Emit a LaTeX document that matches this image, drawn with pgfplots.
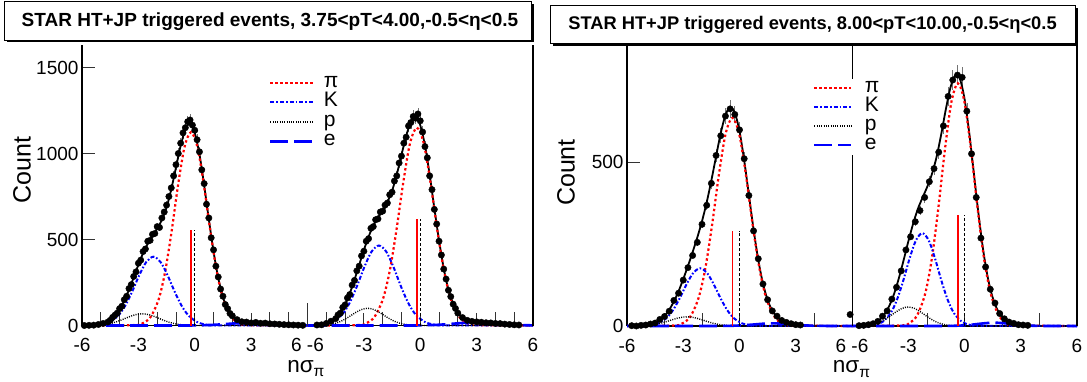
\documentclass[border=0pt]{standalone}
\usepackage{fontspec}
\setmainfont{Liberation Sans}
\usepackage{pgfplots}
\pgfplotsset{compat=1.18}
\pgfplotsset{
  rootaxis/.style={
    scale only axis, clip=false,
    axis x line*=bottom, axis y line*=left,
    axis line style={-, line width=1.1pt, black},
    tick align=inside,
    xmin=-6, xmax=18, ymin=0,
    major tick length=13pt, minor tick length=14pt,
    tick style={black!80, line width=0.9pt},
    ticklabel style={font=\fontsize{19}{19}\selectfont, text=black},
    xticklabel style={inner sep=0pt, yshift=-12.6pt},
    label style={font=\fontsize{25}{25}\selectfont},
    legend cell align=left,
  },
  datast/.style={only marks, mark=*, mark size=3.2pt, black, forget plot,
    error bars/y dir=both, error bars/y fixed relative=0.03, error bars/error mark=none,
    error bars/error bar style={black!55, line width=0.7pt}},
  totst/.style={black, line width=1.8pt, smooth, forget plot},
  pist/.style={red, line width=2.2pt, dash pattern=on 2.4pt off 2.6pt, smooth},
  kst/.style={blue, line width=2pt, dash pattern=on 4pt off 2pt on 1.6pt off 2pt, smooth},
  pst/.style={black, line width=1.4pt, dash pattern=on 1pt off 1.3pt, smooth},
  est/.style={blue, line width=2.6pt, dash pattern=on 18pt off 6pt, smooth},
  redv/.style={red, line width=1.3pt, forget plot},
  blkv/.style={black, line width=1.3pt, dash pattern=on 3pt off 2pt, forget plot},
}
\newcommand{\nsigpi}{nσ\raisebox{-4.5pt}{\fontsize{15.5}{15.5}\selectfont π}}
\begin{document}
\begin{tikzpicture}
\path[use as bounding box] (0pt,0pt) rectangle (1087pt,381pt);
% ---------------- Panel 1 ----------------
\begin{axis}[rootaxis, at={(82pt,55.5pt)}, anchor=south west,
  width=451pt, height=281pt, ymax=1633.7,
  ytick={0,500,1000,1500}, yticklabels={0,500,1000,1500},
  xtick={-6,-3,0,3,6,9,12,15,18},
  xticklabels={-6,-3,0,3,6 -6,-3,0,3,6},
  minor xtick={-5,-4,-2,-1,1,2,4,5,7,8,10,11,13,14,16,17},
  xlabel={\nsigpi},
  ylabel={Count},
  xlabel style={at={(axis description cs:0.4963,-0.1655)}, anchor=base, inner sep=0pt, font=\fontsize{22.5}{22.5}\selectfont},
  ylabel style={at={(axis description cs:-0.133,0.552)}, anchor=center},
  legend style={at={(axis description cs:0.4146,0.899)}, anchor=north west,
    draw=none, fill=white, inner xsep=0pt, inner ysep=0pt, column sep=9pt,
    row sep=0pt, font=\fontsize{21}{21}\selectfont,
    nodes={inner sep=0pt, text height=14pt, text depth=5.5pt}},
  legend image code/.code={\draw[#1] (0pt,0pt) -- (43pt,0pt);},
]
% data, left half
\addplot[datast] coordinates {
(-5.875,0) (-5.625,1) (-5.375,2) (-5.125,6) (-4.875,12) (-4.625,20) (-4.5,30) (-4.375,47)
(-4.25,60) (-4.125,72) (-4,98) (-3.875,112) (-3.75,150) (-3.625,170) (-3.5,215) (-3.375,238)
(-3.25,285) (-3.125,312) (-3,362) (-2.875,380) (-2.75,430) (-2.625,445) (-2.5,490) (-2.375,495)
(-2.25,530) (-2.125,535) (-2,575) (-1.875,570) (-1.75,625) (-1.625,660) (-1.5,700) (-1.375,750)
(-1.25,800) (-1.125,870) (-1,935) (-0.875,1000) (-0.75,1060) (-0.625,1120) (-0.5,1150) (-0.375,1185)
(-0.25,1195) (-0.125,1165) (0,1135) (0.125,1080) (0.25,1010) (0.375,905) (0.5,825) (0.625,705)
(0.75,625) (0.875,510) (1,440) (1.125,345) (1.25,282) (1.375,212) (1.5,170) (1.625,122)
(1.75,98) (1.875,70) (2,56) (2.25,34) (2.5,22) (2.75,20) (3,15) (3.25,18) (3.5,13) (3.75,14)
(4,10) (4.25,9) (4.5,7) (4.75,5) (5,4) (5.25,3) (5.5,2) (5.75,1)};
% data, right half
\addplot[datast] coordinates {
(6.5,3) (6.75,4) (7,12) (7.25,25) (7.5,40) (7.625,62) (7.75,72) (7.875,105) (8,120) (8.125,160)
(8.25,180) (8.375,235) (8.5,262) (8.625,318) (8.75,345) (8.875,405) (9,432) (9.125,490) (9.25,505)
(9.375,565) (9.5,575) (9.625,615) (9.75,620) (9.875,660) (10,665) (10.125,700) (10.25,712)
(10.375,760) (10.5,775) (10.625,840) (10.75,870) (10.875,945) (11,985) (11.125,1060) (11.25,1095)
(11.375,1160) (11.5,1180) (11.625,1215) (11.75,1205) (11.875,1230) (12,1190) (12.125,1125)
(12.25,1040) (12.375,975) (12.5,870) (12.625,790) (12.75,675) (12.875,590) (13,490) (13.125,410)
(13.25,328) (13.375,270) (13.5,205) (13.625,168) (13.75,124) (13.875,99) (14,72) (14.25,46)
(14.5,30) (14.75,24) (15,21) (15.25,19) (15.5,16) (15.75,15) (16,12) (16.25,11) (16.5,8)
(16.75,6) (17,4) (17.25,3)};
% total fits
\addplot[totst] coordinates {
(-6,0) (-5.5,2) (-5,9) (-4.75,17) (-4.5,33) (-4.25,58) (-4,94) (-3.75,145) (-3.5,208) (-3.25,279)
(-3,353) (-2.75,420) (-2.5,476) (-2.25,521) (-2,563) (-1.75,614) (-1.5,687) (-1.25,792) (-1,918)
(-0.75,1046) (-0.5,1142) (-0.375,1165) (-0.25,1172) (-0.125,1157) (0,1122) (0.25,996) (0.5,816)
(0.75,617) (1,430) (1.25,277) (1.5,166) (1.75,95) (2,54) (2.25,33) (2.5,23) (2.75,19) (3,17)
(3.5,15) (4,11) (4.5,7) (5,4) (5.5,2) (6,1)};
\addplot[totst] coordinates {
(6,0) (6.5,2) (7,11) (7.25,23) (7.5,43) (7.75,76) (8,123) (8.25,187) (8.5,266) (8.75,352) (9,439)
(9.25,516) (9.5,580) (9.75,628) (10,668) (10.25,717) (10.5,783) (10.75,877) (11,991) (11.25,1102)
(11.5,1186) (11.625,1204) (11.75,1212) (11.875,1195) (12,1165) (12.25,1048) (12.5,877) (12.75,682)
(13,494) (13.25,332) (13.5,209) (13.75,126) (14,74) (14.25,45) (14.5,30) (14.75,23) (15,20)
(15.5,16.5) (16,12.7) (16.5,8.2) (17,4.5) (17.5,2.1) (18,0.8)};
% pi
\addplot[pist] coordinates {
(-6,0) (-3.21,2.5) (-2.78,12.5) (-2.35,49.3) (-1.92,152.1) (-1.576,312.5) (-1.232,547.2)
(-0.888,816.1) (-0.544,1037.6) (-0.2,1124) (0.144,1037.6) (0.488,816.1) (0.832,547.2)
(1.176,312.5) (1.52,152.1) (1.95,49.3) (2.38,12.5) (2.81,2.5) (6,0)};
\addlegendentry{π}
% K
\addplot[kst] coordinates {
(-6,0) (-5.525,0.9) (-5.05,4.4) (-4.575,17.6) (-4.1,54.1) (-3.72,111.2) (-3.34,194.7)
(-2.96,290.4) (-2.58,369.2) (-2.2,400) (-1.82,369.2) (-1.44,290.4) (-1.06,194.7) (-0.68,111.2)
(-0.3,54.1) (0.175,17.6) (0.65,4.4) (1.125,0.9) (6,0)};
\addlegendentry{K}
% p
\addplot[pst] coordinates {
(-6,0.1) (-5.5,0.75) (-5.05,3.0) (-4.6,9.2) (-4.24,18.9) (-3.88,33.1) (-3.52,49.4) (-3.16,62.8)
(-2.8,68) (-2.44,62.8) (-2.08,49.4) (-1.72,33.1) (-1.36,18.9) (-1.0,9.2) (-0.55,3.0) (-0.1,0.75)
(0.35,0.15) (6,0)};
\addlegendentry{p}
% e
\addplot[est] coordinates {
(-6,0) (-0.6,0.2) (0,0.7) (0.6,2.2) (1.08,4.5) (1.56,7.8) (2.04,11.6) (2.52,14.8) (3,16)
(3.48,14.8) (3.96,11.6) (4.44,7.8) (4.92,4.5) (5.4,2.2) (6,0.7)};
\addlegendentry{e}
% right-half components
\addplot[pist, forget plot] coordinates {
(6,0) (8.67,2.5) (9.12,12.8) (9.57,50.5) (10.02,155.6) (10.38,319.7) (10.74,559.8) (11.1,835)
(11.46,1061.6) (11.82,1150) (12.18,1061.6) (12.54,835) (12.9,559.8) (13.26,319.7) (13.62,155.6)
(14.07,50.5) (14.52,12.8) (14.97,2.5) (18,0)};
\addplot[kst, forget plot] coordinates {
(6,0) (6.37,1.0) (6.86,5.2) (7.35,20.4) (7.84,62.9) (8.232,129.3) (8.624,226.4) (9.016,337.6)
(9.408,429.2) (9.8,465) (10.192,429.2) (10.584,337.6) (10.976,226.4) (11.368,129.3) (11.76,62.9)
(12.25,20.4) (12.74,5.2) (13.23,1.0) (18,0)};
\addplot[pst, forget plot] coordinates {
(6,0.1) (6.65,1.1) (7.075,4.4) (7.5,13.5) (7.84,27.8) (8.18,48.7) (8.52,72.6) (8.86,92.3) (9.2,100)
(9.54,92.3) (9.88,72.6) (10.22,48.7) (10.56,27.8) (10.9,13.5) (11.325,4.4) (11.75,1.1)
(12.175,0.2) (18,0)};
\addplot[est, forget plot] coordinates {
(6,0) (11.4,0.2) (12,0.8) (12.6,2.4) (13.08,5.0) (13.56,8.8) (14.04,13.1) (14.52,16.6) (15,18)
(15.48,16.6) (15.96,13.1) (16.44,8.8) (16.92,5.0) (17.4,2.4) (18,0.8)};
% mean lines
\addplot[redv] coordinates {(-0.2,0) (-0.2,555)};
\addplot[blkv] coordinates {(0,0) (0,555)};
\addplot[redv] coordinates {(11.82,0) (11.82,620)};
\addplot[blkv] coordinates {(12,0) (12,620)};
\addplot[black!80, line width=0.9pt, forget plot] coordinates {(6,0) (6,128)};
\draw[line width=1.1pt] (rel axis cs:1,0) -- (rel axis cs:1,1);
\end{axis}
% ---------------- Panel 2 ----------------
\begin{axis}[rootaxis, at={(627pt,55pt)}, anchor=south west,
  width=450pt, height=280pt, ymax=853.7,
  ytick={0,500}, yticklabels={0,500},
  xtick={-4,-2,0,2,4,8,10,12,14,16}, xticklabels={},
  extra x ticks={-6,-3,0,3,6,9,12,15,18},
  extra x tick labels={-6,-3,0,3,6 -6,-3,0,3,6},
  extra x tick style={major tick length=0pt},
  xlabel={\nsigpi},
  ylabel={Count},
  xlabel style={at={(axis description cs:0.4989,-0.1661)}, anchor=base, inner sep=0pt, font=\fontsize{22.5}{22.5}\selectfont},
  ylabel style={at={(axis description cs:-0.1356,0.548)}, anchor=center},
  legend style={at={(axis description cs:0.4133,0.884)}, anchor=north west,
    draw=none, fill=white, inner xsep=0pt, inner ysep=0pt, column sep=12pt,
    row sep=0pt, font=\fontsize{21}{21}\selectfont,
    nodes={inner sep=0pt, text height=14pt, text depth=5pt}},
  legend image code/.code={\draw[#1] (0pt,0pt) -- (37pt,0pt);},
]
\addplot[datast, error bars/y fixed relative=0.04] coordinates {
(-5.75,1) (-5.5,0) (-5.25,2) (-5,3) (-4.75,6) (-4.5,9) (-4.25,20) (-4,29) (-3.75,45) (-3.5,78)
(-3.25,100) (-3,140) (-2.75,178) (-2.5,215) (-2.25,255) (-2,310) (-1.75,368) (-1.5,435)
(-1.25,520) (-1,580) (-0.75,640) (-0.5,662) (-0.25,645) (0,598) (0.25,510) (0.5,398) (0.75,290)
(1,205) (1.25,128) (1.5,80) (1.75,46) (2,30) (2.25,17) (2.5,11) (2.75,7) (3,4) (3.25,3) (5.9,35)};
\addplot[datast, error bars/y fixed relative=0.04] coordinates {
(6.375,1) (6.625,2) (6.875,4) (7.125,7) (7.375,14) (7.625,30) (7.875,46) (8.125,82) (8.375,118)
(8.625,168) (8.875,232) (9.125,272) (9.375,318) (9.625,352) (9.875,392) (10.125,440) (10.375,480)
(10.625,530) (10.875,610) (11.125,700) (11.375,750) (11.625,765) (11.875,758) (12.125,655)
(12.375,525) (12.625,392) (12.875,268) (13.125,180) (13.375,112) (13.625,70) (13.875,38)
(14.125,22) (14.375,12) (14.625,8) (14.875,4) (15.125,3) (15.375,2)};
\addplot[totst] coordinates {
(-6,0) (-5.5,0.4) (-5,2.4) (-4.75,5) (-4.5,9.7) (-4.25,17.8) (-4,30.5) (-3.75,49.4) (-3.5,74.8)
(-3.25,106) (-3,143) (-2.75,183) (-2.5,225.5) (-2.25,270) (-2,319.5) (-1.75,377) (-1.5,444)
(-1.25,517) (-1,588) (-0.75,643) (-0.5,667) (-0.25,650) (0,594) (0.25,505) (0.5,400) (0.75,294.5)
(1,202) (1.25,130) (1.5,79) (1.75,46.6) (2,27) (2.25,16) (2.5,10) (2.75,6.6) (3,4.5) (3.5,1.9)
(4,0.7) (5,0) (6,0)};
\addplot[totst] coordinates {
(6,0) (6.5,1) (7,5) (7.25,10.7) (7.5,20.7) (7.75,37.5) (8,63) (8.25,99) (8.5,146) (8.75,200)
(9,257) (9.25,310) (9.5,355) (9.75,390) (10,422.6) (10.25,461) (10.5,513) (10.75,582) (11,659.5)
(11.25,727) (11.5,764) (11.75,754) (12,693) (12.25,590) (12.5,465) (12.75,340) (13,230)
(13.25,145.5) (13.5,87) (13.75,50) (14,27.7) (14.25,16) (14.5,9.4) (14.75,5.7) (15,3.5) (15.5,1.1)
(16,0.3) (17,0) (18,0)};
\addplot[pist] coordinates {
(-6,0) (-3.53,1.4) (-3.08,7.0) (-2.63,27.9) (-2.18,85.9) (-1.82,176.5) (-1.46,309.1) (-1.1,461.1)
(-0.74,586.2) (-0.38,635) (-0.02,586.2) (0.34,461.1) (0.7,309.1) (1.06,176.5) (1.42,85.9)
(1.87,27.9) (2.32,7.0) (2.77,1.4) (6,0)};
\addlegendentry{π}
\addplot[kst] coordinates {
(-6,0) (-5.25,0.4) (-4.8,2.0) (-4.35,7.7) (-3.9,23.8) (-3.54,48.9) (-3.18,85.7) (-2.82,127.8)
(-2.46,162.5) (-2.1,176) (-1.74,162.5) (-1.38,127.8) (-1.02,85.7) (-0.66,48.9) (-0.3,23.8)
(0.15,7.7) (0.6,2.0) (1.05,0.4) (6,0)};
\addlegendentry{K}
\addplot[pst] coordinates {
(-6,0.05) (-5.5,0.3) (-5.05,1.2) (-4.6,3.8) (-4.24,7.8) (-3.88,13.6) (-3.52,20.3) (-3.16,25.8)
(-2.8,28) (-2.44,25.8) (-2.08,20.3) (-1.72,13.6) (-1.36,7.8) (-1.0,3.8) (-0.55,1.2) (-0.1,0.3)
(0.35,0.06) (6,0)};
\addlegendentry{p}
\addplot[est] coordinates {
(-6,0) (-1.7,0.02) (-1.2,0.09) (-0.7,0.35) (-0.2,1.1) (0.2,2.2) (0.6,3.9) (1.0,5.8) (1.4,7.4)
(1.8,8) (2.2,7.4) (2.6,5.8) (3.0,3.9) (3.4,2.2) (3.8,1.1) (4.3,0.35) (4.8,0.09) (5.3,0.02) (6,0)};
\addlegendentry{e}
\addplot[pist, forget plot] coordinates {
(6,0) (8.605,1.6) (9.04,8.2) (9.475,32.5) (9.91,100.1) (10.258,205.7) (10.606,360.2)
(10.954,537.3) (11.302,683.1) (11.65,740) (11.998,683.1) (12.346,537.3) (12.694,360.2)
(13.042,205.7) (13.39,100.1) (13.825,32.5) (14.26,8.2) (14.695,1.6) (18,0)};
\addplot[kst, forget plot] coordinates {
(6,0) (6.775,0.6) (7.2,3.1) (7.625,12.4) (8.05,38.3) (8.39,78.7) (8.73,137.8) (9.07,205.5)
(9.41,261.2) (9.75,283) (10.09,261.2) (10.43,205.5) (10.77,137.8) (11.11,78.7) (11.45,38.3)
(11.875,12.4) (12.3,3.1) (12.725,0.6) (18,0)};
\addplot[pst, forget plot] coordinates {
(6,0.1) (6.45,0.64) (6.875,2.5) (7.3,7.8) (7.64,16.1) (7.98,28.2) (8.32,42.1) (8.66,53.5) (9,58)
(9.34,53.5) (9.68,42.1) (10.02,28.2) (10.36,16.1) (10.7,7.8) (11.125,2.5) (11.55,0.64)
(11.975,0.13) (18,0)};
\addplot[est, forget plot] coordinates {
(6,0) (10.45,0.02) (10.9,0.11) (11.35,0.44) (11.8,1.35) (12.16,2.78) (12.52,4.87) (12.88,7.26)
(13.24,9.23) (13.6,10) (13.96,9.23) (14.32,7.26) (14.68,4.87) (15.04,2.78) (15.4,1.35)
(15.85,0.44) (16.3,0.11) (16.75,0.02) (18,0)};
\addplot[redv] coordinates {(-0.38,0) (-0.38,291)};
\addplot[blkv] coordinates {(0,0) (0,291)};
\addplot[redv] coordinates {(11.65,0) (11.65,338)};
\addplot[blkv] coordinates {(12,0) (12,338)};
\addplot[black, line width=1pt, forget plot] coordinates {(6,0) (6,853.7)};
\draw[line width=1.1pt] (rel axis cs:1,0) -- (rel axis cs:1,1);
\end{axis}
% ---------------- Titles ----------------
\fill[black] (7pt,338.6pt) rectangle (534.3pt,376.8pt);
\filldraw[fill=white, draw=black, line width=0.9pt] (4.5pt,341pt) rectangle (531.8pt,379.3pt);
\node[font=\bfseries\fontsize{19}{19}\selectfont] at (270pt,359.5pt)
  {STAR HT+JP triggered events, 3.75<pT<4.00,-0.5<η<0.5};
\fill[black] (552.5pt,334.5pt) rectangle (1078pt,373.3pt);
\filldraw[fill=white, draw=black, line width=0.9pt] (550pt,337.8pt) rectangle (1075.6pt,375.8pt);
\node[font=\bfseries\fontsize{18.3}{18.3}\selectfont] at (812.5pt,356.3pt)
  {STAR HT+JP triggered events, 8.00<pT<10.00,-0.5<η<0.5};
\end{tikzpicture}
\end{document}
